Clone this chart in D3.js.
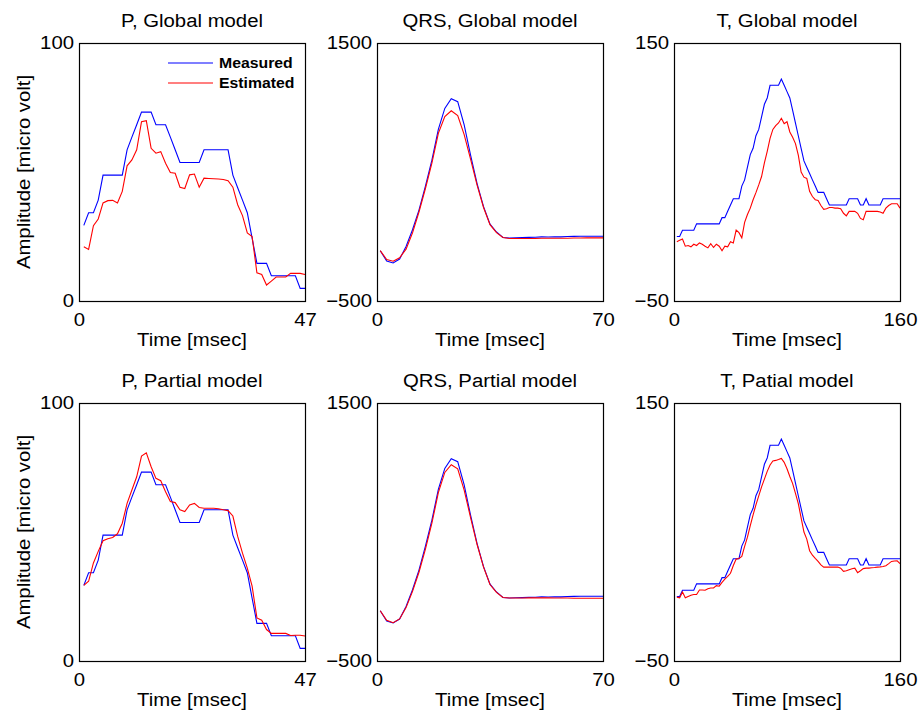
<!DOCTYPE html>
<html lang="en">
<head>
<meta charset="UTF-8">
<title>P, QRS and T waves - measured vs estimated</title>
<script src="https://cdn.jsdelivr.net/npm/d3@7"></script>
<style>
  body { margin: 0; background: #fff; }
  svg { display: block; }
  text { font-family: "Liberation Sans", Arial, Helvetica, sans-serif; fill: #000; }
</style>
</head>
<body>
<svg id="chart" width="921" height="716"></svg>
<script>
// sample times [msec]
var pTime = d3.range(1, 48);                    // 1..47
var qrsTime = d3.range(1, 70, 2).concat([70]);  // 1,3,..,69,70
var tTime = d3.range(2, 161, 2);                // 2..160

var panelTitles = ["P, Global model", "QRS, Global model", "T, Global model",
                   "P, Partial model", "QRS, Partial model", "T, Patial model"];
var seriesNames = ["Measured", "Estimated"];

var pRange = [0, 100], qrsRange = [-500, 1500], tRange = [-50, 150];
var pEnd = 47, qrsEnd = 70, tEnd = 160;

// P wave [micro volt]
var pMeasured = [29.3, 34.2, 34.2, 39.1, 48.8, 48.8, 48.8, 48.8, 48.8, 58.6,
                 63.5, 68.3, 73.2, 73.2, 73.2, 68.3, 68.3, 68.3, 63.5, 58.6,
                 53.7, 53.7, 53.7, 53.7, 53.7, 58.6, 58.6, 58.6, 58.6, 58.6,
                 58.6, 48.8, 43.9, 39.1, 34.2, 24.4, 14.6, 14.6, 14.6, 9.8,
                 9.8, 9.8, 9.8, 9.8, 9.8, 4.9, 4.9];
var pEstGlobal = [21, 20, 29.2, 31.8, 38, 38.9, 39, 38, 42.5, 52.4,
                  54.7, 58.6, 69.5, 69.9, 59.2, 57.3, 57.9, 53.4, 49.8, 49.5,
                  44.1, 43.6, 48.9, 49.2, 44.1, 47.6, 47.5, 47.4, 47.3, 47.1,
                  46.6, 44.1, 37.3, 33.1, 26.4, 25, 10.9, 10.3, 6.2, 7.7,
                  9.3, 9.3, 9.3, 10.7, 10.7, 10.7, 10.3];
var pEstPartial = [29.3, 30.9, 38, 42.5, 46.6, 47.4, 47.9, 49.3, 53.4, 61.1,
                   66.3, 71.4, 79.4, 80.7, 75.3, 70.8, 69.9, 65.6, 61.8, 61.4,
                   58.6, 57.9, 60.5, 61.1, 59.5, 59.2, 59.2, 59.2, 59, 58.6,
                   58.3, 56.2, 48.3, 41.8, 36, 29, 16.7, 15.8, 12.2, 10.7,
                   10.7, 10.7, 10.7, 9.9, 10, 10, 9.7];

// QRS complex
var qrsMeasured = [-110, -190, -205, -175, -78, 52, 205, 390, 592, 830,
                   993, 1068, 1045, 865, 628, 410, 232, 96, 35, -8,
                   -12, -10, -9, -7, -6, -3, -4, -2, -3, 0,
                   1, 2, 2, 2, 2, 2];
var qrsEstGlobal = [-110, -178, -192, -165, -98, 28, 190, 372, 568, 800,
                    929, 975, 938, 790, 598, 398, 225, 92, 30, -8,
                    -16, -16, -16, -15, -15, -14, -14, -13, -13, -13,
                    -12, -12, -11, -11, -11, -11];
var qrsEstPartial = [-110, -185, -203, -174, -86, 40, 188, 368, 568, 805,
                     962, 1022, 990, 825, 610, 403, 228, 93, 32, -8,
                     -12, -12, -12, -11, -11, -11, -11, -12, -12, -12,
                     -13, -13, -14, -14, -14, -14];

// T wave
var tMeasured = [0, 0, 4.9, 4.9, 4.9, 4.9, 4.9, 9.8, 9.8, 9.8,
                 9.8, 9.8, 9.8, 9.8, 9.8, 9.8, 14.6, 14.6, 19.5, 24.4,
                 29.3, 29.3, 29.3, 39.1, 43.9, 53.7, 63.5, 68.4, 78.1, 83,
                 92.8, 102.5, 107.4, 117.2, 117.2, 117.2, 117.2, 122.1, 117.2, 112.3,
                 107.4, 97.7, 87.9, 78.1, 68.4, 58.6, 53.7, 48.8, 43.9, 39.1,
                 34.2, 34.2, 34.2, 29.3, 24.4, 24.4, 24.4, 24.4, 24.4, 24.4,
                 24.4, 29.3, 29.3, 29.3, 29.3, 24.4, 24.4, 29.3, 24.4, 24.4,
                 24.4, 24.4, 24.4, 29.3, 29.3, 29.3, 29.3, 29.3, 29.3, 29.3];
var tEstGlobal = [-4, -3, -2, -7.5, -7, -8, -6, -7, -5, -6,
                  -7.5, -8.8, -5.5, -8.5, -6, -7.5, -11, -7.5, -8, -4,
                  -5, 5, 3, -1, 11, 17, 22, 28.5, 34, 40,
                  46.5, 57, 66, 76, 83, 86, 88, 91.6, 87.5, 89,
                  81, 77, 72, 63, 50, 46, 45, 35, 31, 28.5,
                  28, 24, 21, 21.5, 22.5, 22.5, 22, 22, 21.5, 18,
                  16, 19.5, 19.5, 19.5, 18, 14, 13, 19.5, 19.5, 19.5,
                  19.5, 19.5, 19, 18, 22, 24, 25.4, 25.4, 25.4, 22];
var tEstPartial = [-0.5, -1, 3.5, -1, 0, 1, 1.5, 1.5, 5, 5,
                   4.8, 6, 6.6, 6.6, 8.4, 8, 11, 13.5, 15.6, 18,
                   24, 29, 29.5, 31, 38.8, 46, 55, 63.3, 71, 78,
                   85, 91, 97, 102, 105, 105.5, 106.2, 107, 104, 99,
                   93, 87.5, 80, 72, 61, 50, 44.5, 35.5, 32, 29.5,
                   27.2, 24.5, 22.8, 22.8, 22.8, 22.8, 22.8, 22.8, 22, 19.5,
                   20, 20.8, 21.5, 22, 18.5, 20, 21.6, 22, 22, 22.3,
                   22.5, 22.8, 23, 23.3, 23.9, 25.5, 27.2, 27.5, 27.7, 25.4];

var panels = [
  {title: panelTitles[0], t: pTime, end: pEnd, range: pRange, meas: pMeasured, est: pEstGlobal, col: 0, row: 0},
  {title: panelTitles[1], t: qrsTime, end: qrsEnd, range: qrsRange, meas: qrsMeasured, est: qrsEstGlobal, col: 1, row: 0},
  {title: panelTitles[2], t: tTime, end: tEnd, range: tRange, meas: tMeasured, est: tEstGlobal, col: 2, row: 0},
  {title: panelTitles[3], t: pTime, end: pEnd, range: pRange, meas: pMeasured, est: pEstPartial, col: 0, row: 1},
  {title: panelTitles[4], t: qrsTime, end: qrsEnd, range: qrsRange, meas: qrsMeasured, est: qrsEstPartial, col: 1, row: 1},
  {title: panelTitles[5], t: tTime, end: tEnd, range: tRange, meas: tMeasured, est: tEstPartial, col: 2, row: 1}
];

// layout
var cols = [79, 377, 674], rows = [43, 403];
var W = 226, H = 258;
var SX = 1.13;   // glyphs in the figure are a bit wider than Arial
var FS = 18;
var BLUE = "#0000ff", RED = "#ff0000";

var svg = d3.select("#chart");

function label(g, x, y, str, rot, size, weight, anchor) {
  return g.append("text")
    .attr("transform", "translate(" + x + "," + y + ") rotate(" + (rot || 0) + ") scale(" + SX + ",1)")
    .attr("text-anchor", anchor || "middle")
    .attr("font-size", size || FS)
    .attr("font-weight", weight || "normal")
    .text(str);
}

panels.forEach(function(p) {
  var g = svg.append("g")
    .attr("transform", "translate(" + cols[p.col] + "," + rows[p.row] + ")");

  var x = d3.scaleLinear().domain([0, p.end]).range([0, W]);
  var y = d3.scaleLinear().domain(p.range).range([H, 0]);

  var line = d3.line()
    .x(function(d, i) { return x(p.t[i]); })
    .y(function(d) { return y(d); });

  g.append("path").datum(p.meas)
    .attr("d", line).attr("fill", "none")
    .attr("stroke", BLUE).attr("stroke-width", 1.1);
  g.append("path").datum(p.est)
    .attr("d", line).attr("fill", "none")
    .attr("stroke", RED).attr("stroke-width", 1.1);

  // box
  g.append("rect")
    .attr("x", 0.5).attr("y", 0.5)
    .attr("width", W).attr("height", H)
    .attr("fill", "none").attr("stroke", "#000").attr("stroke-width", 1.2);

  // limit tick labels only
  var xa = g.append("g")
    .attr("transform", "translate(0," + H + ")")
    .call(d3.axisBottom(x).tickValues([0, p.end]).tickSize(0).tickPadding(12)
      .tickFormat(d3.format("d")))
    .attr("font-size", FS);
  xa.select(".domain").remove();
  xa.selectAll("text").attr("transform", "scale(" + SX + ",1)");

  var ya = g.append("g")
    .call(d3.axisLeft(y).tickValues(p.range).tickSize(0).tickPadding(5)
      .tickFormat(d3.format("d")))
    .attr("font-size", FS);
  ya.select(".domain").remove();
  ya.selectAll("text")
    .attr("x", -5 / SX)
    .attr("transform", "scale(" + SX + ",1)");

  label(g, W / 2, -16, p.title);
  label(g, W / 2, H + 45, "Time [msec]");
  if (p.col === 0) {
    label(g, 30 - cols[0], H / 2, "Amplitude [micro volt]", -90);
  }

  // legend (first panel only)
  if (p.col === 0 && p.row === 0) {
    var lg = g.append("g").attr("transform", "translate(89,20)");
    [BLUE, RED].forEach(function(c, i) {
      lg.append("line")
        .attr("x1", 0).attr("x2", 45)
        .attr("y1", i * 20).attr("y2", i * 20)
        .attr("stroke", c).attr("stroke-width", 1.1);
      label(lg, 51, i * 20 + 5, seriesNames[i], 0, 14, "bold", "start");
    });
  }
});
</script>
</body>
</html>
